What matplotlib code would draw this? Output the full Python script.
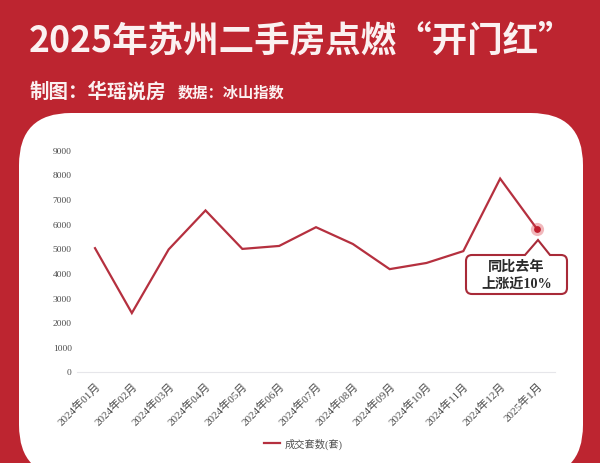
import matplotlib
matplotlib.use('Agg')
import matplotlib.pyplot as plt
from matplotlib.patches import FancyBboxPatch, PathPatch
from matplotlib.path import Path

plt.rcParams['font.family'] = ['Liberation Serif', 'Noto Sans CJK SC']

months = ['2024年01月', '2024年02月', '2024年03月', '2024年04月', '2024年05月', '2024年06月', '2024年07月',
          '2024年08月', '2024年09月', '2024年10月', '2024年11月', '2024年12月', '2025年1月']
deals = [5000, 2370, 4950, 6530, 4970, 5090, 5850, 5170, 4150, 4400, 4880, 7820, 5780]
y_ticks = [0, 1000, 2000, 3000, 4000, 5000, 6000, 7000, 8000, 9000]

RED = '#bd2530'
LINE = '#b5303f'
W, H = 600, 464

fig = plt.figure(figsize=(6, 4.64), dpi=100, facecolor=RED)

# background layer in pixel coords
bg = fig.add_axes([0, 0, 1, 1], zorder=0)
bg.set_xlim(0, W)
bg.set_ylim(H, 0)
bg.axis('off')
bg.add_patch(FancyBboxPatch((19 + 52, 114 + 52), 564 - 104, 364 - 104, boxstyle='round,pad=52,rounding_size=52',
                            fc='white', ec='none'))
bg.text(29, 41, '2025年苏州二手房点燃“开门红”', color='#fbf1f1', fontsize=25.6, fontweight='bold',
        family='Noto Sans CJK SC', va='center', ha='left')
bg.text(30, 92, '制图：华瑶说房', color='#fbf1f1', fontsize=14, fontweight='bold',
        family='Noto Sans CJK SC', va='center', ha='left')
bg.text(178, 93, '数据：冰山指数', color='#fbf1f1', fontsize=11, fontweight='bold',
        family='Noto Sans CJK SC', va='center', ha='left')

# chart
ax = fig.add_axes([76.6 / W, 1 - 372.5 / H, 478.8 / W, 222 / H], zorder=1)
ax.patch.set_alpha(0)
x = list(range(len(months)))
ax.plot(x, deals, color=LINE, lw=1.6, label='成交套数(套)', solid_joinstyle='miter')
ax.scatter(x[-1], deals[-1], s=90, color='#d8343f', alpha=0.35, linewidths=0, zorder=3)
ax.scatter(x[-1], deals[-1], s=24, color='#c01f2e', linewidths=0, zorder=4)
ax.set_xlim(-0.5, len(months) - 0.5)
ax.set_ylim(0, 9000)
ax.set_yticks(y_ticks)
ax.set_xticks(x)
ax.set_xticklabels(months, rotation=45, ha='right', rotation_mode='anchor')
ax.tick_params(axis='y', length=0, labelsize=6.8, labelcolor='#4d4d4d', pad=3.5)
ax.tick_params(axis='x', length=0, labelsize=8, labelcolor='#4d4d4d', pad=6)
for s in ['top', 'right', 'left']:
    ax.spines[s].set_visible(False)
ax.spines['bottom'].set_color('#e6e6ea')
ax.spines['bottom'].set_linewidth(0.8)
ax.legend(loc='center', bbox_to_anchor=(303 / W, 1 - 444 / H), bbox_transform=fig.transFigure, frameon=False,
          fontsize=7.4, labelcolor='#4d4d4d', handlelength=1.6, handletextpad=0.4)

# callout on top
top = fig.add_axes([0, 0, 1, 1], zorder=2)
top.set_xlim(0, W)
top.set_ylim(H, 0)
top.axis('off')
l, r, t, b, rad = 466, 567, 256, 295, 6
verts = [(l + rad, t), (525, t), (538, 241), (550, t), (r - rad, t), (r, t), (r, t + rad), (r, b - rad), (r, b),
         (r - rad, b), (l + rad, b), (l, b), (l, b - rad), (l, t + rad), (l, t), (l + rad, t), (l + rad, t)]
codes = [Path.MOVETO, Path.LINETO, Path.LINETO, Path.LINETO, Path.LINETO, Path.CURVE3, Path.CURVE3, Path.LINETO,
         Path.CURVE3, Path.CURVE3, Path.LINETO, Path.CURVE3, Path.CURVE3, Path.LINETO, Path.CURVE3, Path.CURVE3,
         Path.CLOSEPOLY]
top.add_patch(PathPatch(Path(verts, codes), fc='white', ec='#a82a38', lw=1.5))
top.text(516.5, 267, '同比去年', color='#2b2b2b', fontsize=10.2, fontweight='bold', ha='center', va='center')
top.text(516.5, 284, '上涨近10%', color='#2b2b2b', fontsize=10.2, fontweight='bold', ha='center', va='center')

fig.savefig('out.png', dpi=100, facecolor=RED)
